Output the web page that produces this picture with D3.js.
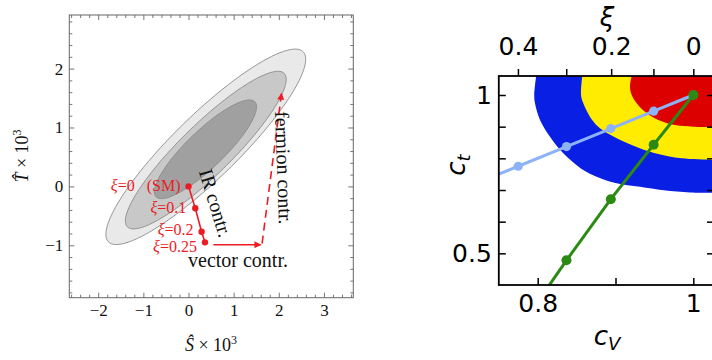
<!DOCTYPE html>
<html>
<head>
<meta charset="utf-8">
<script src="https://cdn.jsdelivr.net/npm/d3@7"></script>
<style>
  html, body { margin: 0; padding: 0; background: #fff; }
  svg { display: block; }
</style>
</head>
<body>
<script>
// ---------- Left panel: oblique S-T fit ----------
// Confidence ellipses (outer to inner): centre, major semi-axis vector, minor semi-axis vector (S, T units x 10^3)
const ellCenters = [[0.383, 0.672], [0.383, 0.616], [0.376, 0.630]];
const ellMajor   = [[2.157, 1.613], [1.737, 1.302], [1.095, 0.806]];
const ellMinor   = [[0.494, -0.389], [0.394, -0.309], [0.286, -0.229]];

// Composite-Higgs IR contribution for several xi
const redXi     = ["0", "0.1", "0.2", "0.25"];
const redS      = [0, 0.15, 0.29, 0.365];
const redT      = [0, -0.37, -0.77, -0.95];

// Extra contributions (arrows)
const vectorFrom  = [0.55, -0.99];
const vectorTo    = [1.60, -0.99];
const fermionFrom = [1.63, -0.97];
const fermionTo   = [2.06, 1.58];

const sTicks = [-2, -1, 0, 1, 2, 3];
const tTicks = [-1, 0, 1, 2];

// ---------- Right panel: (c_V, c_t) fit ----------
const contourBlue = [[0.798, 1.060], [0.7956, 1.000], [0.7965, 0.974], [0.803, 0.921], [0.8158, 0.868],
  [0.8329, 0.816], [0.8586, 0.763], [0.8758, 0.742], [0.9000, 0.722], [0.9315, 0.710], [0.962, 0.699],
  [0.996, 0.692], [1.026, 0.691]];
const contourYellow = [[0.8573, 1.060], [0.8557, 1.000], [0.8586, 0.974], [0.8700, 0.921], [0.8800, 0.895],
  [0.8980, 0.868], [0.9208, 0.842], [0.9508, 0.816], [0.9851, 0.800], [1.026, 0.795]];
const contourRed = [[0.9208, 1.060], [0.9186, 1.026], [0.9208, 1.000], [0.9273, 0.974], [0.9379, 0.947],
  [0.9550, 0.921], [0.9765, 0.905], [1.000, 0.900], [1.026, 0.899]];

// Model predictions for xi = 0, 0.1, 0.2, 0.3, 0.4, 0.5
const mchm4CV = [1, 0.949, 0.894, 0.837, 0.775, 0.707];
const mchm4Ct = [1, 0.949, 0.894, 0.837, 0.775, 0.707];
const mchm5CV = [1, 0.949, 0.894, 0.837, 0.775];
const mchm5Ct = [1, 0.843, 0.671, 0.478, 0.258];

const xiTicks  = [0.4, 0.3, 0.2, 0.1, 0];
const xiLabels = [0.4, 0.2, 0];
const cvTicks  = [0.8, 0.9, 1];
const cvLabels = [0.8, 1];
const ctTicks  = [0.5, 0.6, 0.7, 0.8, 0.9, 1];
const ctLabels = [0.5, 1];

// ---------- Drawing ----------
const W = 712, H = 360;
const svg = d3.select("body").append("svg").attr("width", W).attr("height", H);
const serif = "'Liberation Serif', 'Times New Roman', serif";
const sans = "'DejaVu Sans', sans-serif";

/* ===== Left panel ===== */
const L = {x0: 69.3, x1: 353.3, y0: 15, y1: 297.7};
const xL = d3.scaleLinear().domain([-2.64, 3.65]).range([L.x0, L.x1]);
const yL = d3.scaleLinear().domain([-1.89, 2.91]).range([L.y1, L.y0]);
const gL = svg.append("g");

const ellFills = ["#e9e9e9", "#c8c8c8", "#a0a0a0"];
const ellLine = d3.line().x(d => xL(d[0])).y(d => yL(d[1])).curve(d3.curveLinearClosed);
ellCenters.forEach((c, i) => {
  const u = ellMajor[i], v = ellMinor[i];
  const pts = d3.range(0, 360, 2).map(a => {
    const t = a * Math.PI / 180;
    return [c[0] + u[0] * Math.cos(t) + v[0] * Math.sin(t), c[1] + u[1] * Math.cos(t) + v[1] * Math.sin(t)];
  });
  gL.append("path").attr("d", ellLine(pts))
    .attr("fill", ellFills[i]).attr("stroke", "#8a8a8a").attr("stroke-width", 0.9);
});

// frame with inward ticks on all sides
gL.append("rect").attr("x", L.x0).attr("y", L.y0).attr("width", L.x1 - L.x0).attr("height", L.y1 - L.y0)
  .attr("fill", "none").attr("stroke", "#666").attr("stroke-width", 1);

const sMinor = d3.range(-2.6, 3.61, 0.2).map(v => +v.toFixed(1)).filter(v => !sTicks.includes(v));
const tMinor = d3.range(-1.8, 2.81, 0.2).map(v => +v.toFixed(1)).filter(v => !tTicks.includes(v));
const fmtInt = d3.format("d");

function styleAxis(g, fs) {
  g.select(".domain").remove();
  g.selectAll("line").attr("stroke", "#666").attr("stroke-width", 0.9);
  g.selectAll("text").attr("font-family", serif).attr("font-size", fs).attr("fill", "#111");
}
gL.append("g").attr("transform", `translate(0,${L.y1})`)
  .call(d3.axisBottom(xL).tickValues(sTicks).tickSize(-5).tickPadding(6).tickFormat(fmtInt)).call(g => styleAxis(g, 17));
gL.append("g").attr("transform", `translate(0,${L.y1})`)
  .call(d3.axisBottom(xL).tickValues(sMinor).tickSize(-3).tickFormat("")).call(g => styleAxis(g, 17));
gL.append("g").attr("transform", `translate(0,${L.y0})`)
  .call(d3.axisTop(xL).tickValues(sTicks).tickSize(-5).tickFormat("")).call(g => styleAxis(g, 17));
gL.append("g").attr("transform", `translate(0,${L.y0})`)
  .call(d3.axisTop(xL).tickValues(sMinor).tickSize(-3).tickFormat("")).call(g => styleAxis(g, 17));
gL.append("g").attr("transform", `translate(${L.x0},0)`)
  .call(d3.axisLeft(yL).tickValues(tTicks).tickSize(-5).tickPadding(6).tickFormat(fmtInt)).call(g => styleAxis(g, 17));
gL.append("g").attr("transform", `translate(${L.x0},0)`)
  .call(d3.axisLeft(yL).tickValues(tMinor).tickSize(-3).tickFormat("")).call(g => styleAxis(g, 17));
gL.append("g").attr("transform", `translate(${L.x1},0)`)
  .call(d3.axisRight(yL).tickValues(tTicks).tickSize(-5).tickFormat("")).call(g => styleAxis(g, 17));
gL.append("g").attr("transform", `translate(${L.x1},0)`)
  .call(d3.axisRight(yL).tickValues(tMinor).tickSize(-3).tickFormat("")).call(g => styleAxis(g, 17));

// axis titles
const xTitle = gL.append("text").attr("x", 211).attr("y", 351).attr("text-anchor", "middle")
  .attr("font-family", serif).attr("font-size", 18).attr("fill", "#111");
xTitle.append("tspan").attr("font-style", "italic").text("\u015C");
xTitle.append("tspan").text(" \u00D7 10");
xTitle.append("tspan").attr("font-size", 12).attr("dy", -7).text("3");

const yTitle = gL.append("text").attr("transform", "translate(28,156) rotate(-90)").attr("text-anchor", "middle")
  .attr("font-family", serif).attr("font-size", 18).attr("fill", "#111");
yTitle.append("tspan").attr("font-style", "italic").text("T\u0302");
yTitle.append("tspan").text(" \u00D7 10");
yTitle.append("tspan").attr("font-size", 12).attr("dy", -7).text("3");

// red IR trajectory
const red = "#ec1c24";
const redPts = redS.map((s, i) => [s, redT[i]]);
gL.append("path").attr("d", d3.line().x(d => xL(d[0])).y(d => yL(d[1]))(redPts))
  .attr("fill", "none").attr("stroke", red).attr("stroke-width", 1.6);
gL.selectAll(".rdot").data(redPts).join("circle")
  .attr("cx", d => xL(d[0])).attr("cy", d => yL(d[1])).attr("r", 3.2).attr("fill", red);

const labOff = [[-8, 5], [-9, 5], [-8, 3], [-8, 10]];
redPts.forEach((p, i) => {
  const t = gL.append("text").attr("x", xL(p[0]) + labOff[i][0]).attr("y", yL(p[1]) + labOff[i][1])
    .attr("text-anchor", "end").attr("font-family", serif).attr("font-size", 16).attr("fill", red);
  t.append("tspan").attr("font-style", "italic").text("\u03BE");
  t.append("tspan").text("=" + redXi[i] + (i === 0 ? "\u2002 (SM)" : ""));
});

// arrows
const defs = svg.append("defs");
defs.append("marker").attr("id", "ah").attr("viewBox", "0 0 10 10").attr("refX", 9).attr("refY", 5)
  .attr("markerWidth", 9).attr("markerHeight", 7).attr("markerUnits", "userSpaceOnUse").attr("orient", "auto")
  .append("path").attr("d", "M0,0 L10,5 L0,10 z").attr("fill", red);
gL.append("line").attr("x1", xL(vectorFrom[0])).attr("y1", yL(vectorFrom[1]))
  .attr("x2", xL(vectorTo[0])).attr("y2", yL(vectorTo[1]))
  .attr("stroke", red).attr("stroke-width", 1.6).attr("marker-end", "url(#ah)");
gL.append("line").attr("x1", xL(fermionFrom[0])).attr("y1", yL(fermionFrom[1]))
  .attr("x2", xL(fermionTo[0])).attr("y2", yL(fermionTo[1]))
  .attr("stroke", red).attr("stroke-width", 1.6).attr("stroke-dasharray", "8,5").attr("marker-end", "url(#ah)");

// annotations
gL.append("text").attr("x", 238).attr("y", 267).attr("text-anchor", "middle")
  .attr("font-family", serif).attr("font-size", 20).attr("fill", "#111").text("vector contr.");
gL.append("text").attr("transform", "translate(209,205) rotate(73)").attr("text-anchor", "middle")
  .attr("font-family", serif).attr("font-size", 20).attr("fill", "#111").text("IR contr.");
gL.append("text").attr("transform", "translate(277,168) rotate(88)").attr("text-anchor", "middle")
  .attr("font-family", serif).attr("font-size", 20).attr("fill", "#111").text("fermion contr.");

/* ===== Right panel ===== */
const R = {x0: 498.8, x1: 714, y0: 76, y1: 285};
const xR = d3.scaleLinear().domain([0.75, 1.0266]).range([R.x0, R.x1]);
const yR = d3.scaleLinear().domain([0.4, 1.06]).range([R.y1, R.y0]);
const gR = svg.append("g");

defs.append("clipPath").attr("id", "clipR").append("rect")
  .attr("x", R.x0).attr("y", R.y0).attr("width", R.x1 - R.x0).attr("height", R.y1 - R.y0);
const plot = gR.append("g").attr("clip-path", "url(#clipR)");

const edge = d3.line().x(d => xR(d[0])).y(d => yR(d[1])).curve(d3.curveCatmullRom);
function regionPath(pts) {
  const first = pts[0], last = pts[pts.length - 1];
  const closing = [[1.2, last[1]], [1.2, 1.3], [first[0], 1.3]];
  return edge(pts) + closing.map(p => `L${xR(p[0])},${yR(p[1])}`).join("") + "Z";
}
const regionColors = ["#0a1fe4", "#ffec00", "#dc0000"];
[contourBlue, contourYellow, contourRed].forEach((c, i) => {
  plot.append("path").attr("d", regionPath(c)).attr("fill", regionColors[i]);
});

const mchm4 = mchm4CV.map((v, i) => [v, mchm4Ct[i]]);
const mchm5 = mchm5CV.map((v, i) => [v, mchm5Ct[i]]);
const seg = d3.line().x(d => xR(d[0])).y(d => yR(d[1]));
const lightBlue = "#8db2f7", green = "#2b8a14";
plot.append("path").attr("d", seg(mchm4)).attr("fill", "none").attr("stroke", lightBlue).attr("stroke-width", 3);
plot.selectAll(".m4").data(mchm4).join("circle")
  .attr("cx", d => xR(d[0])).attr("cy", d => yR(d[1])).attr("r", 4.6).attr("fill", lightBlue);
plot.append("path").attr("d", seg(mchm5)).attr("fill", "none").attr("stroke", green).attr("stroke-width", 3);
plot.selectAll(".m5").data(mchm5).join("circle")
  .attr("cx", d => xR(d[0])).attr("cy", d => yR(d[1])).attr("r", 5).attr("fill", green);

// frame and axes
gR.append("rect").attr("x", R.x0).attr("y", R.y0).attr("width", R.x1 - R.x0).attr("height", R.y1 - R.y0)
  .attr("fill", "none").attr("stroke", "#000").attr("stroke-width", 1.8);

function styleR(g) {
  g.select(".domain").remove();
  g.selectAll("line").attr("stroke", "#000").attr("stroke-width", 1.5);
  g.selectAll("text").attr("font-family", sans).attr("font-size", 25).attr("fill", "#000");
}
const fmtR = v => (v === 1 ? "1" : d3.format(".1f")(v));
gR.append("g").attr("transform", `translate(0,${R.y1})`)
  .call(d3.axisBottom(xR).tickValues(cvTicks).tickSize(-7).tickPadding(9)
    .tickFormat(v => cvLabels.includes(v) ? fmtR(v) : "")).call(styleR);
gR.append("g").attr("transform", `translate(${R.x0},0)`)
  .call(d3.axisLeft(yR).tickValues(ctTicks).tickSize(-7).tickPadding(7)
    .tickFormat(v => ctLabels.includes(v) ? fmtR(v) : "")).call(styleR);
gR.append("g").attr("transform", `translate(${R.x1},0)`)
  .call(d3.axisRight(yR).tickValues(ctTicks).tickSize(-7).tickFormat("")).call(styleR);
const xiPos = xiTicks.map(xi => Math.sqrt(1 - xi));
gR.append("g").attr("transform", `translate(0,${R.y0})`)
  .call(d3.axisTop(xR).tickValues(xiPos).tickSize(7).tickPadding(14)
    .tickFormat((v, i) => xiLabels.includes(xiTicks[i]) ? (xiTicks[i] === 0 ? "0" : d3.format(".1f")(xiTicks[i])) : ""))
  .call(styleR);

// axis titles
const cvT = gR.append("text").attr("x", 607).attr("y", 345).attr("text-anchor", "middle")
  .attr("font-family", sans).attr("font-size", 26).attr("fill", "#000");
cvT.append("tspan").attr("font-style", "italic").text("c");
cvT.append("tspan").attr("font-style", "italic").attr("font-size", 18).attr("dy", 5).text("V");

const ctT = gR.append("text").attr("transform", "translate(465,165) rotate(-90)").attr("text-anchor", "middle")
  .attr("font-family", sans).attr("font-size", 26).attr("fill", "#000");
ctT.append("tspan").attr("font-style", "italic").text("c");
ctT.append("tspan").attr("font-style", "italic").attr("font-size", 18).attr("dy", 5).text("t");

gR.append("text").attr("x", 607).attr("y", 26).attr("text-anchor", "middle")
  .attr("font-family", sans).attr("font-style", "italic").attr("font-size", 26).attr("fill", "#000").text("\u03BE");
</script>
</body>
</html>
